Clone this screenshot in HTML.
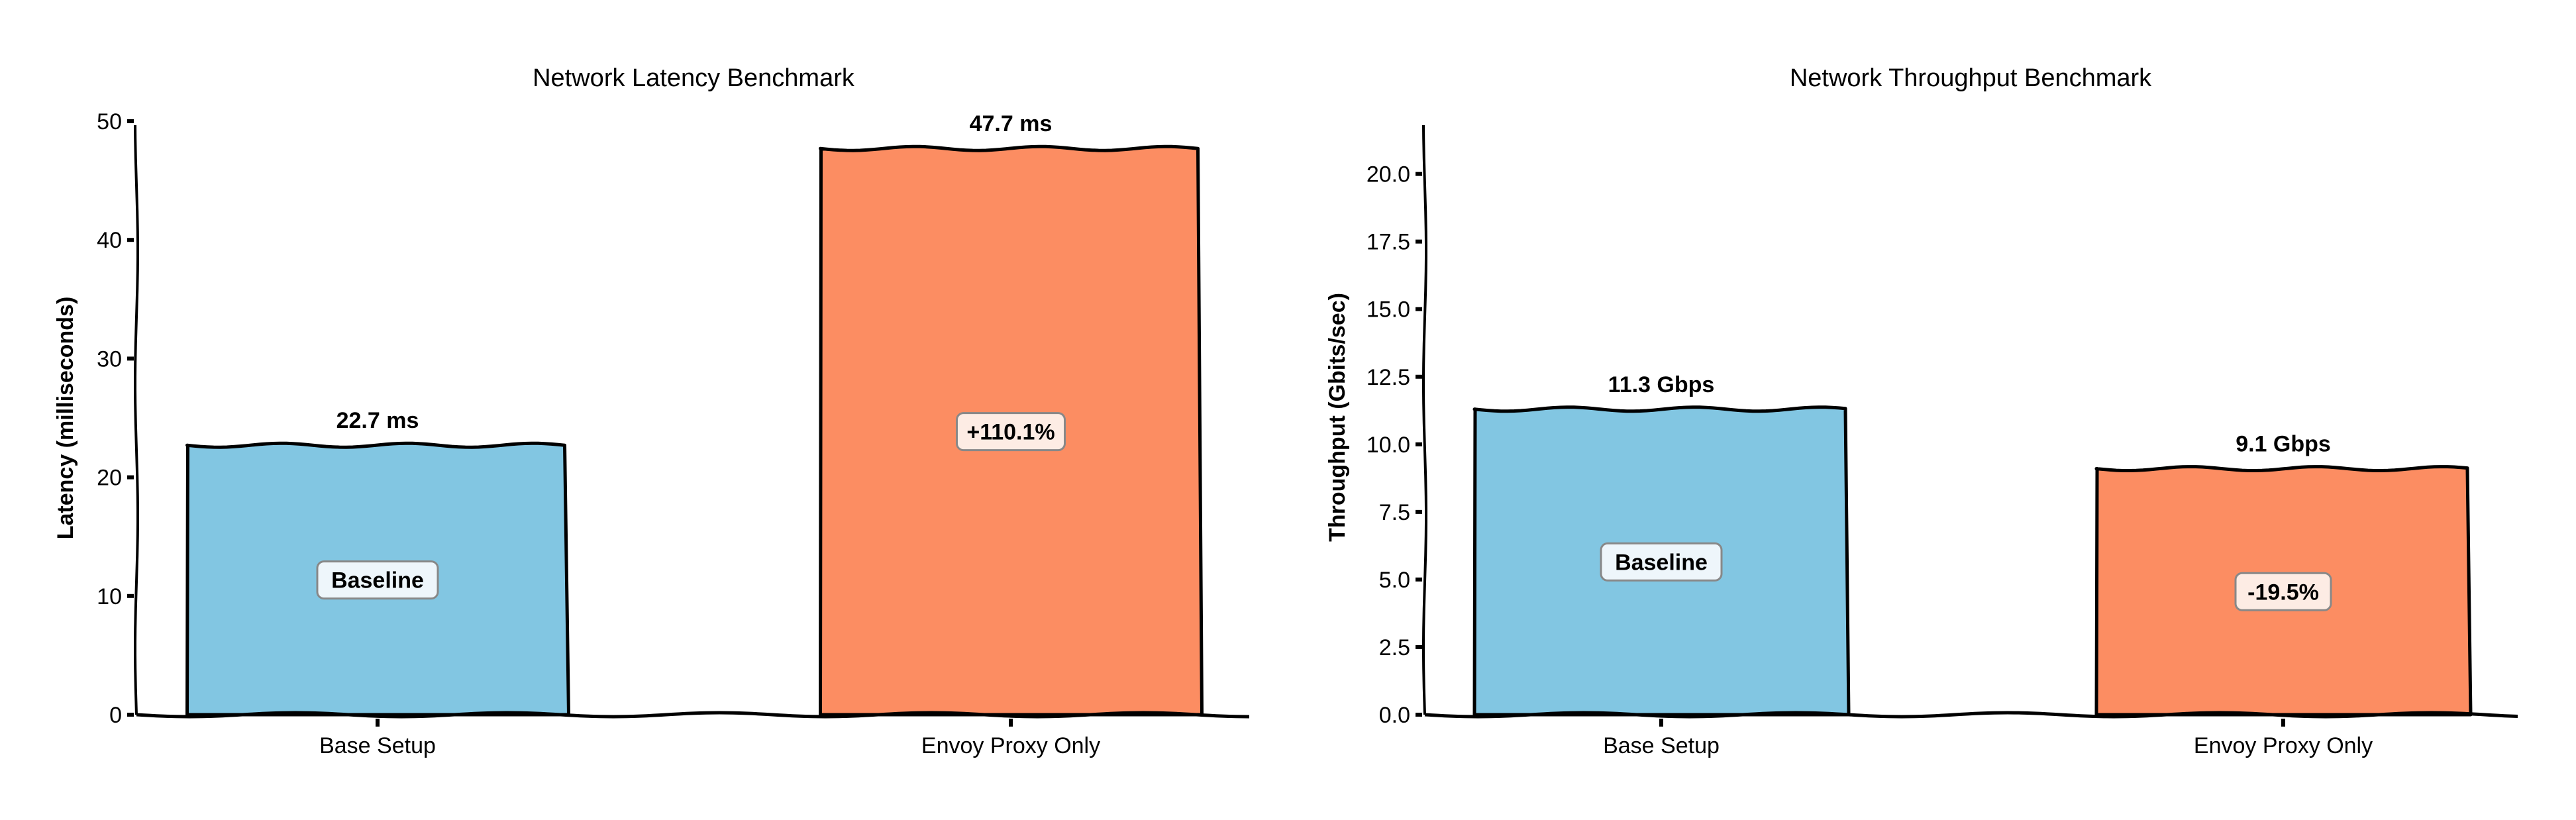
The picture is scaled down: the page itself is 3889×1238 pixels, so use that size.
<!DOCTYPE html>
<html><head><meta charset="utf-8"><style>
html,body{margin:0;padding:0;background:#fff}
svg{display:block}
text{font-family:"Liberation Sans",sans-serif}
</style></head><body>
<svg id="c" width="3889" height="1238" viewBox="0 0 3889 1238" xmlns="http://www.w3.org/2000/svg"></svg>
<script>
const categories = ["Base Setup", "Envoy Proxy Only"];
const latencyValues = [22.7, 47.7];
const latencyLabels = ["22.7 ms", "47.7 ms"];
const latencyBadges = ["Baseline", "+110.1%"];
const latencyTicks = [0, 10, 20, 30, 40, 50];
const latencyTickLabels = ["0", "10", "20", "30", "40", "50"];
const throughputValues = [11.3, 9.1];
const throughputLabels = ["11.3 Gbps", "9.1 Gbps"];
const throughputBadges = ["Baseline", "-19.5%"];
const throughputTicks = [0, 2.5, 5, 7.5, 10, 12.5, 15, 17.5, 20];
const throughputTickLabels = ["0.0", "2.5", "5.0", "7.5", "10.0", "12.5", "15.0", "17.5", "20.0"];
const colors = ["#82c6e2", "#fc8d62"];
const badgeFills = ["#eef6fb", "#fdece4"];

const svg = document.getElementById('c');
const NS = "http://www.w3.org/2000/svg";
function el(tag, attrs, parent) {
  const e = document.createElementNS(NS, tag);
  for (const k in attrs) e.setAttribute(k, attrs[k]);
  (parent || svg).appendChild(e);
  return e;
}
function wavyH(x1, x2, y, amp, per) {
  let d = `M${x1},${y}`;
  for (let x = x1; x <= x2; x += 10) d += ` L${x},${(y + amp * Math.sin((x - x1) / per * 2 * Math.PI)).toFixed(1)}`;
  return d;
}
function wavyV(x, y1, y2, amp, per) {
  let d = `M${x},${y1}`;
  const s = y2 > y1 ? 10 : -10;
  for (let y = y1; s > 0 ? y <= y2 : y >= y2; y += s) d += ` L${(x + amp * Math.sin((y - y1) / per * 2 * Math.PI)).toFixed(1)},${y}`;
  return d;
}

function chart(cfg) {
  const g = el('g', {});
  
  
  const yS = v => cfg.y0 - (v - 0) / cfg.ymax * (cfg.y0 - cfg.yTop);
  const xCenters = cfg.centers;
  const t = el('text', {x: cfg.titleX, y: 130, 'font-size': 38, 'text-anchor': 'middle', fill: '#000'}, g);
  t.textContent = cfg.title;
  
  
  const yl = el('text', {x: 0, y: 0, 'font-size': 34, 'font-weight': 'bold', 'text-anchor': 'middle', transform: `translate(${cfg.ylabelX},${(cfg.y0 + cfg.yTop) / 2}) rotate(-90)`}, g);
  yl.textContent = cfg.ylabel;
  
  
  cfg.values.forEach((v, i) => {
    const cx = xCenters[i], w = cfg.barW, top = yS(v);
    const p = el('path', {d: `M${cx - w / 2},${cfg.y0} L${cx - w / 2 + 1},${top} ` + wavyH(cx - w / 2, cx + w / 2, top, 3, 190).replace('M', 'L') + ` L${cx + w / 2 + 1},${cfg.y0} Z`, fill: colors[i], stroke: '#000', 'stroke-width': 5, 'stroke-linejoin': 'round'}, g);
    
    
    const lt = el('text', {x: cx, y: top - 26, 'font-size': 34, 'font-weight': 'bold', 'text-anchor': 'middle'}, g);
    lt.textContent = cfg.labels[i];
    
    
    const by = yS(v / 2);
    const bw = cfg.badges[i].length * 19 + 30;
    const r = el('rect', {x: cx - bw / 2, y: by - 28, width: bw, height: 56, rx: 10, fill: badgeFills[i], stroke: '#888', 'stroke-width': 3}, g);
    
    
    const bt = el('text', {x: cx, y: by + 12, 'font-size': 34, 'font-weight': 'bold', 'text-anchor': 'middle'}, g);
    bt.textContent = cfg.badges[i];
    
    
  });
  const ya = el('path', {d: wavyV(cfg.axX, cfg.y0, cfg.yTop, 2, 400), fill: 'none', stroke: '#000', 'stroke-width': 4}, g);
  
  
  const xa = el('path', {d: wavyH(cfg.axX, cfg.axEnd, cfg.y0, 3, 320), fill: 'none', stroke: '#000', 'stroke-width': 5}, g);
  
  
  cfg.ticks.forEach((v, i) => {
    const y = yS(v);
    el('line', {x1: cfg.axX - 14, x2: cfg.axX - 4, y1: y, y2: y, stroke: '#000', 'stroke-width': 6}, g);
    const tl = el('text', {x: cfg.axX - 22, y: y + 12, 'font-size': 34, 'text-anchor': 'end'}, g);
    tl.textContent = cfg.tickLabels[i];
    
    
  });
  categories.forEach((c, i) => {
    el('line', {x1: xCenters[i], x2: xCenters[i], y1: cfg.y0 + 6, y2: cfg.y0 + 18, stroke: '#000', 'stroke-width': 6}, g);
    const xl = el('text', {x: xCenters[i], y: cfg.y0 + 58, 'font-size': 34, 'text-anchor': 'middle'}, g);
    xl.textContent = c;
    
    
  });
}

chart({name: 'latency-chart', title: 'Network Latency Benchmark', ylabel: 'Latency (milliseconds)', titleX: 1047, ylabelX: 110,
  axX: 206, axEnd: 1888, y0: 1079, yTop: 183, ymax: 50, centers: [570, 1526], barW: 575,
  values: latencyValues, labels: latencyLabels, badges: latencyBadges, ticks: latencyTicks, tickLabels: latencyTickLabels});
chart({name: 'throughput-chart', title: 'Network Throughput Benchmark', ylabel: 'Throughput (Gbits/sec)', titleX: 2975, ylabelX: 2030,
  axX: 2151, axEnd: 3802, y0: 1079, yTop: 181, ymax: 22, centers: [2508, 3447], barW: 564,
  values: throughputValues, labels: throughputLabels, badges: throughputBadges, ticks: throughputTicks, tickLabels: throughputTickLabels});
</script>
</body></html>
